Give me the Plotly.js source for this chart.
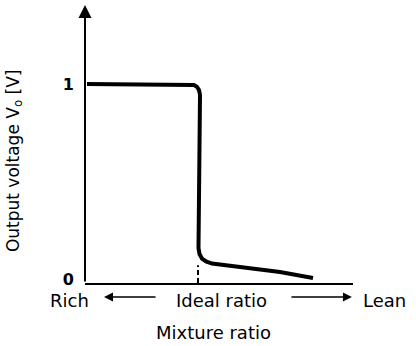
<!DOCTYPE html>
<html>
<head>
<meta charset="utf-8">
<script src="https://cdn.plot.ly/plotly-3.0.1.min.js"></script>
<style>html,body{margin:0;padding:0;background:#fff;}#chart{width:416px;height:346px;}</style>
</head>
<body>
<div id="chart"></div>
<script>
// Output voltage curve (mixture ratio axis in arbitrary units, voltage in V)
var mixture = [2, 105, 109, 112, 114, 115, 114.5, 113.5, 114.5, 117, 121, 127, 155, 195, 228];
var voltage = [1.0, 1.0, 0.995, 0.985, 0.969, 0.944, 0.508, 0.159, 0.128, 0.105, 0.09, 0.079, 0.062, 0.036, 0.005];
// Ideal ratio marker
var idealX = [113, 113];
var idealY = [-0.02, 0.07];
// Labels
var yTickVals = [0, 1];
var yTickText = ['0', '1'];
var xLabels = ['Rich', 'Ideal ratio', 'Lean'];
var xLabelPaper = [-0.056, 0.508, 1.119];
var xTitle = 'Mixture ratio';
var yTitle = 'Output voltage V<sub>o</sub> [V]';

var fam = 'DejaVu Sans, sans-serif';
var font = {family: fam, size: 18, color: '#000'};

var traces = [
  {x: mixture, y: voltage, mode: 'lines', line: {color: '#000', width: 4}, hoverinfo: 'none'},
  {x: idealX, y: idealY, mode: 'lines', line: {color: '#000', width: 2, dash: '5px,3px'}, hoverinfo: 'none'}
];

var annotations = [];
for (var i = 0; i < xLabels.length; i++) {
  annotations.push({x: xLabelPaper[i], xref: 'paper', y: -0.064, yref: 'paper', text: xLabels[i],
    showarrow: false, xanchor: 'center', yanchor: 'middle', font: font});
}
annotations.push({x: 0.48, xref: 'paper', y: -0.178, yref: 'paper', text: xTitle,
  showarrow: false, xanchor: 'center', yanchor: 'middle', font: font});
annotations.push({x: -0.265, xref: 'paper', y: 0.442, yref: 'paper', text: yTitle, textangle: -90,
  showarrow: false, xanchor: 'center', yanchor: 'middle', font: {family: fam, size: 17, color: '#000'}});
// y axis with arrowhead
annotations.push({x: 0, xref: 'paper', y: 1, yref: 'paper', ax: 0, ay: 278,
  text: '', showarrow: true, arrowhead: 2, arrowsize: 1.3, arrowwidth: 2, arrowcolor: '#000'});
// direction arrows
annotations.push({x: 0.071, xref: 'paper', y: -0.05, yref: 'paper', ax: 53, ay: 0,
  text: '', showarrow: true, arrowhead: 2, arrowsize: 1.2, arrowwidth: 1.5, arrowcolor: '#000'});
annotations.push({x: 0.996, xref: 'paper', y: -0.05, yref: 'paper', ax: -62, ay: 0,
  text: '', showarrow: true, arrowhead: 2, arrowsize: 1.2, arrowwidth: 1.5, arrowcolor: '#000'});

var layout = {
  width: 416, height: 346,
  margin: {l: 85, r: 63, t: 5, b: 63},
  paper_bgcolor: '#fff', plot_bgcolor: '#fff',
  showlegend: false,
  xaxis: {range: [0, 268], showgrid: false, zeroline: false, showticklabels: false, ticks: '',
    showline: true, linecolor: '#000', linewidth: 2, fixedrange: true},
  yaxis: {range: [-0.0205, 1.405], showgrid: false, zeroline: false, showline: false,
    tickvals: yTickVals, ticktext: yTickText, ticks: '', ticklabelstandoff: 10,
    tickfont: {family: fam, size: 16, color: '#000', weight: 'bold'}, fixedrange: true},
  annotations: annotations
};

Plotly.newPlot('chart', traces, layout, {displayModeBar: false, staticPlot: true});
</script>
</body>
</html>
